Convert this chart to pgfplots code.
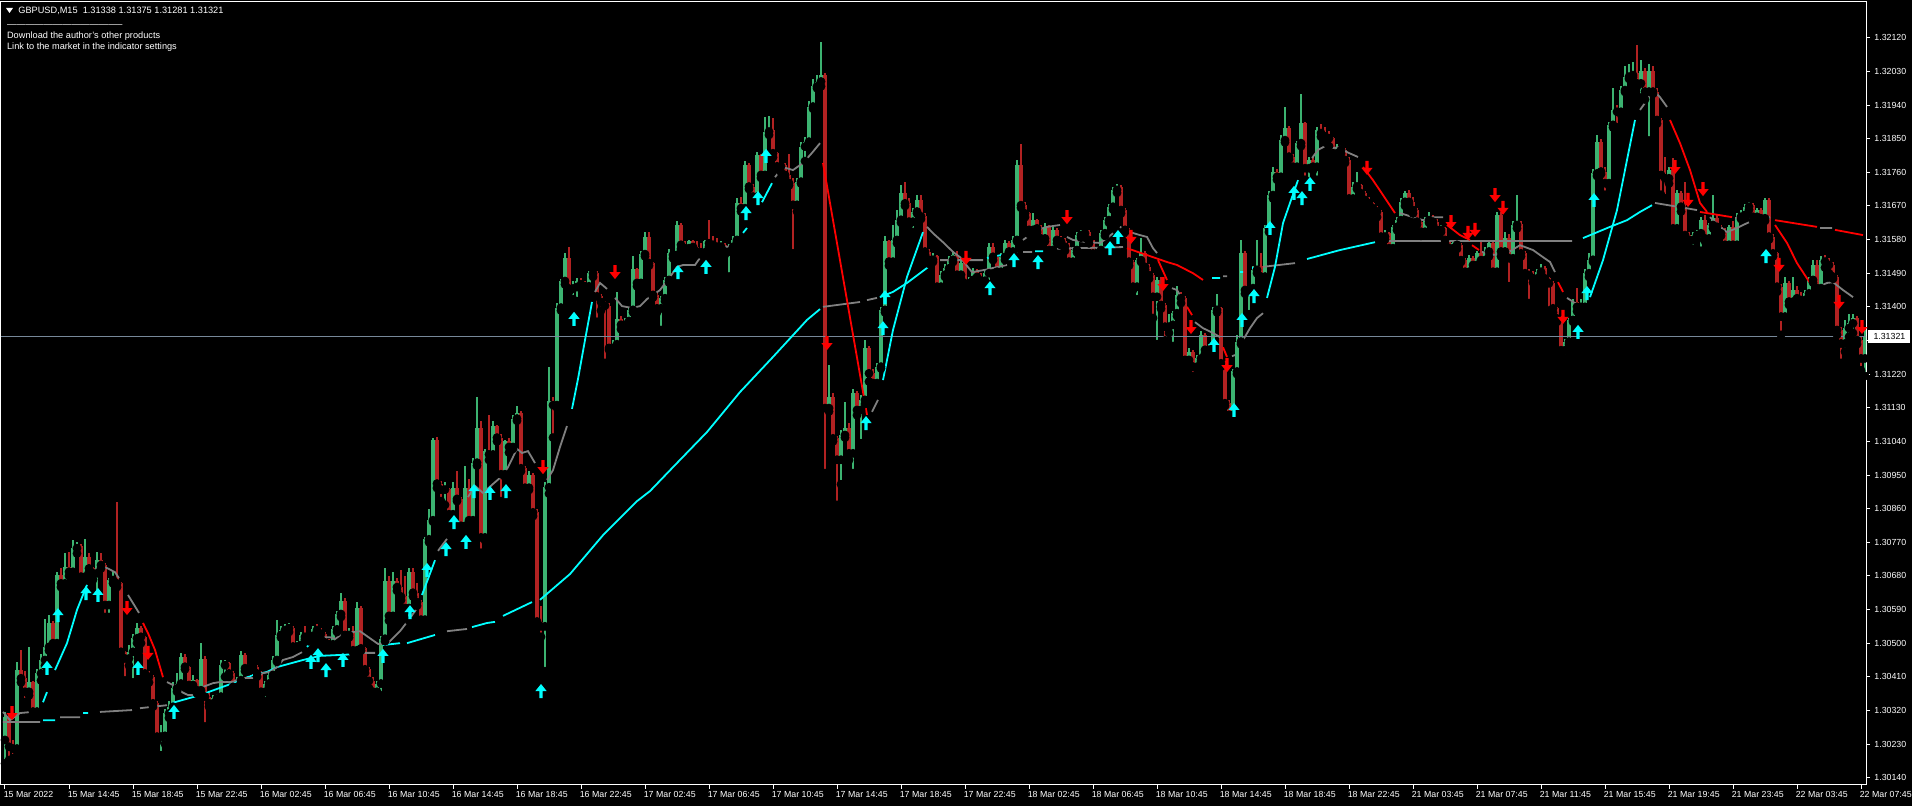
\documentclass[border=0pt]{standalone}
\usepackage{pgfplots}
\pgfplotsset{compat=1.18}
\usepackage{pgfplotstable}
\usepackage{fontspec}
\setmainfont{Liberation Sans}
\definecolor{cgreen}{RGB}{60,179,113}
\definecolor{cred}{RGB}{178,34,34}
\definecolor{aqua}{RGB}{0,255,255}
\definecolor{mred}{RGB}{255,0,0}
\definecolor{mgray}{RGB}{128,128,128}
\definecolor{pline}{RGB}{119,136,153}
\pgfdeclareplotmark{uarr}{%
  \pgfpathmoveto{\pgfpoint{-0.8pt}{-3.5pt}}\pgfpathlineto{\pgfpoint{0.8pt}{-3.5pt}}
  \pgfpathlineto{\pgfpoint{0.8pt}{0pt}}\pgfpathlineto{\pgfpoint{2.8pt}{0pt}}
  \pgfpathlineto{\pgfpoint{0pt}{3.5pt}}\pgfpathlineto{\pgfpoint{-2.8pt}{0pt}}
  \pgfpathlineto{\pgfpoint{-0.8pt}{0pt}}\pgfpathclose\pgfusepathqfill}
\pgfdeclareplotmark{darr}{%
  \pgfpathmoveto{\pgfpoint{-0.8pt}{3.5pt}}\pgfpathlineto{\pgfpoint{0.8pt}{3.5pt}}
  \pgfpathlineto{\pgfpoint{0.8pt}{0pt}}\pgfpathlineto{\pgfpoint{2.8pt}{0pt}}
  \pgfpathlineto{\pgfpoint{0pt}{-3.5pt}}\pgfpathlineto{\pgfpoint{-2.8pt}{0pt}}
  \pgfpathlineto{\pgfpoint{-0.8pt}{0pt}}\pgfpathclose\pgfusepathqfill}
% candles: bar index, open, close, high, low in points above 1.30000
\pgfplotstableread{
i o c h l
0 241 303 315 178
1 303 223 312 187
2 223 218 240 192
3 218 428 450 210
4 428 406 481 395
5 406 370 425 342
6 370 395 489 360
7 395 317 400 305
8 317 419 430 310
9 419 455 470 400
10 455 490 566 440
11 490 553 575 480
12 553 500 560 490
13 500 682 690 495
14 682 660 700 650
15 660 705 740 650
16 705 691 745 680
17 691 754 775 680
18 754 760 770 740
19 760 678 765 660
20 678 731 778 670
21 731 700 740 690
22 700 687 705 670
23 687 723 745 620
24 723 709 740 700
25 709 602 715 570
26 602 669 675 570
27 669 678 690 660
28 678 660 878 650
29 660 477 665 465
30 477 459 480 400
31 459 477 495 440
32 477 513 525 395
33 513 540 555 500
34 540 517 545 500
35 517 419 520 405
36 419 410 425 395
37 410 339 415 330
38 339 250 345 236
39 250 252 280 200
40 252 312 325 230
41 312 330 345 300
42 330 379 395 320
43 379 392 420 370
44 392 464 475 385
45 464 437 470 430
46 437 388 440 380
47 388 401 415 380
48 401 374 405 365
49 374 459 500 365
50 459 357 465 277
51 357 339 370 330
52 339 352 360 335
53 352 357 365 340
54 357 441 455 350
55 441 446 455 410
56 446 419 450 410
57 419 383 425 375
58 383 401 410 375
59 401 468 480 395
60 468 433 475 425
61 433 437 445 425
62 437 437 445 430
63 437 419 442 410
64 419 370 425 360
65 370 392 400 345
66 392 415 420 385
67 415 455 465 410
68 455 522 562 450
69 522 535 545 515
70 535 540 550 525
71 540 540 555 530
72 540 491 545 485
73 491 495 505 485
74 495 522 530 490
75 522 517 545 510
76 517 520 525 505
77 520 537 545 512
78 537 535 550 510
79 535 525 540 510
80 525 502 530 495
81 502 497 510 485
82 497 537 545 490
83 537 578 585 530
84 578 614 634 570
85 614 522 620 515
86 522 532 540 515
87 532 481 545 475
88 481 594 610 475
89 594 486 600 480
90 486 430 490 420
91 430 399 435 380
92 399 370 410 355
93 370 392 400 350
94 392 512 520 360
95 512 666 700 505
96 666 573 680 560
97 573 666 690 565
98 666 650 675 640
99 650 625 695 615
100 625 594 680 585
101 594 691 700 560
102 691 635 700 625
103 635 610 660 600
104 610 563 615 555
105 563 778 785 545
106 778 829 860 770
107 829 1044 1050 825
108 1044 927 1052 915
109 927 911 935 880
110 911 913 930 870
111 913 845 915 840
112 845 916 930 840
113 916 886 960 880
114 886 814 890 805
115 814 916 975 800
116 916 829 940 810
117 829 983 995 815
118 983 1075 1160 975
119 1075 783 1095 742
120 783 1014 1020 775
121 1014 1005 1110 990
122 1005 1080 1095 995
123 1080 1050 1085 1040
124 1050 952 1060 880
125 952 1040 1045 945
126 1040 1025 1050 1010
127 1025 1101 1110 1020
128 1101 1116 1135 1095
129 1116 968 1120 960
130 968 916 975 905
131 916 950 960 910
132 950 850 955 840
133 850 558 860 545
134 558 545 600 517
135 545 917 930 425
136 917 1147 1240 900
137 1147 1137 1160 1050
138 1137 1398 1410 1130
139 1398 1469 1475 1390
140 1469 1531 1545 1460
141 1531 1449 1560 1440
142 1449 1453 1470 1420
143 1453 1470 1478 1415
144 1470 1460 1478 1450
145 1460 1455 1470 1440
146 1455 1490 1495 1450
147 1490 1490 1492 1480
148 1490 1428 1495 1360
149 1428 1413 1435 1390
150 1413 1403 1415 1250
151 1403 1290 1410 1285
152 1290 1300 1310 1280
153 1300 1367 1440 1295
154 1367 1352 1375 1340
155 1352 1362 1370 1345
156 1362 1392 1400 1355
157 1392 1500 1535 1385
158 1500 1464 1505 1455
159 1464 1541 1550 1455
160 1541 1587 1600 1535
161 1587 1517 1600 1510
162 1517 1432 1520 1425
163 1432 1396 1440 1385
164 1396 1423 1430 1338
165 1423 1472 1480 1415
166 1472 1544 1555 1465
167 1544 1539 1550 1530
168 1539 1619 1630 1535
169 1619 1566 1625 1555
170 1566 1557 1575 1545
171 1557 1575 1580 1550
172 1575 1560 1580 1535
173 1560 1548 1575 1540
174 1550 1546 1570 1540
175 1546 1575 1580 1540
176 1575 1570 1633 1560
177 1570 1566 1590 1560
178 1566 1561 1585 1550
179 1561 1566 1575 1555
180 1566 1548 1570 1540
181 1548 1561 1568 1481
182 1561 1579 1590 1545
183 1579 1677 1690 1575
184 1677 1664 1695 1655
185 1664 1780 1790 1660
186 1780 1722 1785 1715
187 1722 1695 1730 1685
188 1695 1807 1815 1690
189 1807 1753 1810 1745
190 1753 1869 1908 1745
191 1869 1874 1910 1860
192 1874 1811 1905 1800
193 1811 1776 1815 1770
194 1776 1780 1785 1760
195 1780 1753 1785 1745
196 1753 1731 1810 1725
197 1731 1673 1745 1543
198 1673 1735 1745 1655
199 1735 1829 1840 1730
200 1829 1842 1855 1790
201 1842 1936 1950 1835
202 1936 1990 2010 1930
203 1990 2003 2020 1985
204 2003 2021 2110 1990
205 2021 1129 2025 955
206 1129 1160 1245 1120
207 1160 1048 1170 1040
208 1048 991 1055 870
209 991 1057 1070 925
210 1057 1075 1145 1050
211 1075 1008 1090 990
212 1008 1169 1180 955
213 1169 1124 1175 1110
214 1124 1151 1165 1035
215 1151 1289 1310 1140
216 1289 1222 1295 1200
217 1222 1196 1235 1180
218 1196 1240 1250 1185
219 1240 1392 1400 1235
220 1392 1575 1590 1385
221 1575 1521 1580 1510
222 1521 1579 1620 1515
223 1579 1633 1660 1570
224 1633 1704 1727 1625
225 1704 1677 1735 1670
226 1677 1628 1690 1620
227 1628 1655 1665 1600
228 1655 1686 1700 1650
229 1686 1642 1700 1635
230 1642 1548 1650 1540
231 1548 1526 1555 1515
232 1526 1535 1545 1520
233 1535 1454 1540 1445
234 1454 1486 1495 1445
235 1486 1503 1515 1480
236 1503 1526 1535 1495
237 1526 1539 1550 1520
238 1539 1486 1550 1480
239 1486 1517 1525 1475
240 1517 1463 1530 1455
241 1463 1472 1480 1455
242 1472 1494 1505 1465
243 1494 1480 1500 1470
244 1480 1470 1490 1460
245 1470 1490 1500 1450
246 1490 1561 1570 1460
247 1561 1534 1570 1525
248 1534 1494 1540 1485
249 1494 1534 1545 1485
250 1534 1570 1580 1525
251 1570 1548 1575 1540
252 1548 1579 1590 1540
253 1579 1780 1793 1575
254 1780 1672 1837 1665
255 1672 1650 1680 1640
256 1650 1606 1655 1595
257 1606 1632 1650 1600
258 1632 1610 1635 1600
259 1610 1583 1620 1575
260 1583 1615 1625 1575
261 1615 1552 1620 1540
262 1552 1606 1615 1545
263 1606 1579 1612 1570
264 1579 1575 1590 1565
265 1575 1561 1585 1550
266 1561 1521 1570 1505
267 1521 1552 1560 1515
268 1552 1592 1600 1545
269 1592 1597 1605 1585
270 1597 1600 1608 1585
271 1600 1579 1605 1570
272 1579 1543 1580 1535
273 1543 1552 1560 1535
274 1552 1597 1605 1545
275 1597 1632 1640 1590
276 1632 1668 1675 1625
277 1668 1713 1720 1660
278 1713 1722 1730 1705
279 1722 1659 1725 1650
280 1659 1606 1665 1600
281 1606 1521 1610 1510
282 1521 1454 1525 1445
283 1454 1525 1530 1420
284 1525 1543 1585 1520
285 1543 1507 1550 1500
286 1507 1485 1515 1475
287 1485 1427 1490 1370
288 1427 1472 1480 1300
289 1472 1405 1480 1395
290 1405 1347 1410 1310
291 1347 1352 1380 1330
292 1352 1383 1390 1295
293 1383 1432 1455 1375
294 1432 1423 1440 1410
295 1423 1258 1430 1250
296 1258 1280 1290 1250
297 1280 1240 1285 1215
298 1240 1262 1270 1235
299 1262 1325 1335 1255
300 1325 1285 1330 1275
301 1285 1289 1300 1270
302 1289 1392 1400 1280
303 1392 1396 1435 1385
304 1396 1249 1400 1240
305 1249 1142 1255 1135
306 1142 1111 1150 1098
307 1111 1227 1235 1105
308 1227 1307 1325 1220
309 1307 1543 1580 1300
310 1543 1445 1550 1435
311 1445 1450 1455 1380
312 1450 1499 1510 1440
313 1499 1508 1580 1490
314 1508 1481 1545 1470
315 1481 1610 1620 1475
316 1610 1699 1710 1600
317 1699 1762 1775 1690
318 1762 1748 1770 1740
319 1748 1846 1860 1740
320 1846 1878 1935 1840
321 1878 1802 1885 1795
322 1802 1775 1810 1770
323 1775 1838 1845 1760
324 1838 1891 1970 1830
325 1891 1771 1895 1740
326 1771 1793 1800 1735
327 1793 1775 1800 1765
328 1775 1873 1880 1740
329 1873 1865 1890 1855
330 1865 1856 1880 1840
331 1856 1851 1870 1830
332 1851 1811 1855 1800
333 1811 1829 1835 1805
334 1829 1820 1830 1810
335 1820 1793 1825 1785
336 1793 1690 1800 1680
337 1690 1722 1735 1675
338 1722 1726 1760 1715
339 1726 1704 1730 1695
340 1704 1686 1710 1680
341 1686 1677 1695 1660
342 1677 1664 1680 1655
343 1664 1655 1670 1640
344 1655 1588 1660 1580
345 1588 1597 1605 1580
346 1597 1557 1600 1545
347 1557 1614 1620 1550
348 1614 1632 1640 1605
349 1632 1681 1690 1625
350 1681 1704 1710 1670
351 1704 1681 1712 1675
352 1681 1659 1695 1650
353 1659 1628 1665 1620
354 1628 1601 1635 1590
355 1601 1632 1640 1595
356 1632 1641 1655 1625
357 1641 1628 1645 1620
358 1628 1606 1635 1595
359 1606 1610 1620 1600
360 1610 1579 1615 1570
361 1579 1557 1580 1548
362 1557 1570 1580 1540
363 1570 1566 1580 1555
364 1566 1525 1570 1520
365 1525 1494 1530 1485
366 1494 1530 1540 1490
367 1530 1512 1535 1500
368 1512 1543 1550 1500
369 1543 1525 1575 1515
370 1525 1548 1560 1520
371 1548 1570 1580 1535
372 1570 1494 1575 1480
373 1494 1646 1655 1480
374 1646 1548 1655 1535
375 1548 1583 1600 1540
376 1583 1530 1595 1455
377 1530 1619 1630 1525
378 1619 1623 1698 1610
379 1623 1543 1630 1535
380 1543 1490 1550 1480
381 1490 1485 1500 1410
382 1485 1476 1495 1465
383 1476 1494 1500 1460
384 1494 1503 1515 1490
385 1503 1476 1510 1465
386 1476 1463 1480 1390
387 1463 1396 1470 1385
388 1396 1369 1400 1360
389 1369 1284 1375 1270
390 1284 1307 1315 1262
391 1307 1365 1370 1300
392 1365 1414 1420 1360
393 1414 1400 1450 1388
394 1400 1400 1420 1390
395 1400 1490 1500 1395
396 1490 1526 1545 1480
397 1526 1757 1770 1520
398 1757 1842 1860 1750
399 1842 1762 1850 1755
400 1762 1731 1775 1700
401 1731 1887 1895 1725
402 1887 1927 1985 1880
403 1927 1922 1940 1880
404 1922 1980 1990 1915
405 1980 2016 2045 1975
406 2016 2020 2050 2010
407 2020 2025 2055 2015
408 2025 1998 2101 1990
409 1998 2030 2060 1960
410 2030 1976 2040 1955
411 1976 2030 2050 1845
412 2030 1976 2045 1970
413 1976 1900 1985 1890
414 1900 1753 1905 1700
415 1753 1744 1800 1690
416 1744 1766 1775 1730
417 1766 1610 1798 1600
418 1610 1704 1712 1605
419 1704 1668 1710 1655
420 1668 1592 1735 1580
421 1592 1579 1600 1560
422 1579 1592 1600 1555
423 1592 1597 1605 1580
424 1597 1632 1640 1550
425 1632 1583 1645 1575
426 1583 1619 1625 1575
427 1619 1637 1700 1610
428 1637 1614 1645 1605
429 1614 1597 1620 1590
430 1597 1566 1610 1560
431 1566 1615 1620 1560
432 1615 1566 1630 1560
433 1566 1641 1650 1560
434 1641 1646 1660 1635
435 1646 1668 1675 1640
436 1668 1673 1680 1660
437 1673 1641 1678 1630
438 1641 1659 1665 1635
439 1659 1637 1665 1630
440 1637 1686 1690 1630
441 1686 1588 1690 1580
442 1588 1543 1595 1535
443 1543 1454 1548 1440
444 1454 1374 1460 1325
445 1374 1463 1480 1370
446 1463 1414 1470 1405
447 1414 1445 1480 1410
448 1445 1423 1455 1395
449 1423 1418 1440 1410
450 1418 1436 1445 1410
451 1436 1472 1480 1430
452 1472 1512 1525 1465
453 1512 1450 1525 1440
454 1450 1526 1535 1445
455 1526 1521 1540 1505
456 1521 1512 1530 1490
457 1512 1481 1520 1475
458 1481 1338 1485 1325
459 1338 1302 1345 1250
460 1302 1343 1365 1280
461 1343 1356 1380 1320
462 1356 1369 1380 1330
463 1369 1311 1375 1300
464 1311 1262 1318 1230
465 1262 1321 1338 1215
}\candles
% medium moving average, in points above 1.30000, split by colour
\pgfplotstableread{
i p
-0.5 316
1.25 294
3.75 313
6.75 316
8.75 321
0 nan
21.75 677
23.25 704
25.5 701
27.5 690
28.5 674
0 nan
30.75 629
33.5 581
0 nan
40.5 396
42 388
44.25 369
45.75 361
48 361
49.5 383
52 393
53.75 396
57 396
58.75 407
62 407
64.5 420
66.25 423
68 436
69.5 455
72 463
74.25 476
0 nan
78.5 516
81.25 516
82.5 511
84.5 527
88.75 532
93.25 498
95.75 500
98.75 532
101.25 567
103.75 605
0 nan
108.25 747
110.5 779
0 nan
115.75 891
117.5 921
119.5 902
122 926
124.25 947
125.75 971
128 1020
129.25 1009
130.75 1014
132.5 982
0 nan
135.5 937
137 963
138.75 1025
140.5 1081
0 nan
147.5 1440
148.75 1464
150.5 1448
0 nan
152.5 1424
154.25 1402
156.75 1397
158.75 1402
160.5 1421
161.25 1426
163.75 1445
166.25 1480
168 1507
169.5 1512
172.5 1512
173.75 1531
0 nan
175.75 1560
178 1568
180.5 1560
182 1568
183.25 1579
0 nan
192.5 1747
194.5 1774
197 1766
199.5 1785
201.75 1812
203.75 1838
0 nan
216.75 1119
218.25 1151
0 nan
230.5 1614
232 1597
234.5 1573
237 1547
238.75 1533
241.75 1493
245 1499
247 1504
250.5 1512
0 nan
254.5 1579
258 1606
260.5 1614
263.75 1619
0 nan
265.5 1587
267 1579
270.5 1573
273.75 1571
275.5 1584
277 1597
0 nan
278.75 1614
281.25 1600
283.75 1592
285.5 1587
287 1557
288 1544
0 nan
291.75 1450
293 1445
294.5 1418
0 nan
297.5 1359
299.5 1343
302 1330
303.75 1319
0 nan
306.75 1268
307.5 1271
0 nan
309.5 1311
311.25 1343
313 1370
314.5 1383
0 nan
326.75 1798
328.25 1820
330 1830
332 1825
333.75 1828
335.5 1814
338.25 1801
0 nan
348.75 1651
352 1640
354.5 1632
357 1640
359.5 1640
0 nan
369.25 1547
372 1539
375.5 1544
378.75 1565
382 1552
384.5 1533
386.25 1520
387.5 1493
0 nan
390.5 1424
392.5 1410
393.75 1405
395.5 1405
0 nan
408.75 1927
410.5 1953
412 1980
413.75 1961
415.5 1935
0 nan
426.25 1640
428.75 1614
430.5 1600
433 1611
435.5 1624
438.75 1638
441.25 1640
0 nan
452.5 1450
455.5 1464
457 1466
459.5 1445
462 1426
}\medgray
\pgfplotstableread{
i p
9.5 342
10.5 369
0 nan
12.5 428
15.5 500
18 589
20.5 656
0 nan
75.5 490
77.5 514
0 nan
104.25 629
107.5 722
0 nan
141.75 1127
143.25 1207
145 1311
146.75 1413
0 nan
184.5 1598
185.5 1611
0 nan
189.25 1680
191.75 1731
0 nan
219.5 1204
222 1338
225.5 1480
229.5 1600
0 nan
315.5 1424
317.5 1507
319.5 1624
321.25 1678
323.25 1739
0 nan
396.25 1426
399.5 1525
403 1659
405.5 1793
407.5 1900
}\medcyan
\pgfplotstableread{
i p
34.5 554
35.75 527
37.5 482
39.5 409
0 nan
204.5 1785
215.5 1111
0 nan
288.25 1525
290.5 1472
0 nan
295.5 1400
296.75 1378
0 nan
304.5 1292
305.5 1266
0 nan
339.5 1774
342 1739
344.5 1699
347.5 1651
0 nan
360.5 1619
363.75 1592
366.25 1579
0 nan
366.75 1565
368.5 1552
0 nan
388.25 1466
389.5 1440
0 nan
416.25 1900
418.75 1838
421.25 1766
423.75 1678
425.5 1654
0 nan
442.5 1619
445.5 1571
448 1517
451.25 1464
}\medred
% slow moving average
\pgfplotstableread{
i p
-0.5 289
8.75 289
0 nan
13.75 302
18.75 302
0 nan
23.75 316
31.75 321
0 nan
33.75 326
40.5 334
0 nan
89.5 474
92.5 474
0 nan
110.5 532
115.5 538
0 nan
204.5 1400
213.75 1413
0 nan
215.5 1418
218 1424
0 nan
233.75 1525
244.5 1525
0 nan
254.5 1547
256.75 1547
0 nan
260.75 1555
279.5 1560
0 nan
304.5 1482
305.5 1482
0 nan
314.5 1507
322.5 1517
0 nan
343.75 1576
391.75 1576
0 nan
412.5 1678
423 1659
0 nan
432.5 1638
441.25 1638
0 nan
453.75 1611
456.75 1611
}\slowgray
\pgfplotstableread{
i p
9.5 294
12.5 294
0 nan
19.5 313
20.75 313
0 nan
41.75 340
48.75 361
57 393
62 415
65.5 423
68 436
74.5 455
78.75 466
88.75 471
0 nan
94.5 495
98.75 500
0 nan
100.5 500
107.5 522
0 nan
116.75 543
120.5 554
122.5 557
0 nan
124.5 573
131.75 610
0 nan
133.75 616
141.25 685
149.5 789
158 880
161.25 907
167 971
175.5 1065
183.75 1172
192 1266
200.5 1365
203.75 1394
0 nan
218.75 1426
222 1440
225.5 1464
229.5 1496
232.5 1520
0 nan
245.5 1531
253 1547
0 nan
257.5 1549
259.5 1549
0 nan
301.75 1477
303.75 1477
0 nan
308.75 1493
309.5 1493
0 nan
311.75 1504
313.25 1504
0 nan
325.5 1528
333.75 1552
342.5 1573
0 nan
394.5 1584
401.25 1614
405.5 1632
408.75 1654
411.75 1672
}\slowcyan
\pgfplotstableread{
i p
280.5 1557
290.5 1520
293 1512
297 1490
299.5 1472
0 nan
423.75 1654
431.75 1640
0 nan
442.5 1632
453 1614
0 nan
457.5 1606
464.5 1592
}\slowred
% signal arrows
\pgfplotstableread{
i p
10.5 434
13.25 575
20.25 634
23.25 629
33.25 434
42.25 316
76.5 450
78.25 468
80.25 428
84.5 455
94.5 466
101.25 583
105.5 696
110.25 752
112.25 824
115.25 771
117.25 907
121.25 902
125.25 907
134 372
142.25 1368
168.25 1493
175.25 1507
185.25 1651
188.25 1691
190.25 1804
215.25 1089
219.5 1343
220 1426
246.25 1450
252.25 1525
258.25 1520
276.25 1557
278.25 1587
302.25 1298
307.25 1124
309.25 1365
312.25 1429
316.25 1611
322.25 1705
324.25 1691
326.25 1729
393.25 1333
395.5 1437
397.25 1686
440.25 1536
}\uparrows
\pgfplotstableread{
i p
1.75 313
30.5 594
35.75 474
134.5 971
152.5 1493
205.5 1303
240.25 1531
265.5 1640
281.5 1587
289.5 1461
296.5 1346
305.5 1244
340.5 1772
361.5 1627
365.75 1598
367.5 1606
372.5 1699
374.5 1665
389.5 1373
417.5 1774
420.75 1686
424.5 1715
443.5 1512
458.5 1413
464.25 1346
}\downarrows
\begin{document}
\begin{tikzpicture}
\fill[black] (-0.5pt,-10.5pt) rectangle (955.5pt,392.5pt);
\begin{axis}[
  at={(0,0)}, anchor=south west,
  scale only axis, width=932.5pt, height=391.5pt,
  xmin=-1, xmax=465.25, ymin=1.301205, ymax=1.322158,
  axis line style={draw=white, line width=0.5pt},
  tick style={draw=white, line width=0.5pt},
  major tick length=2pt, tick align=outside,
  xtick pos=left, xticklabel pos=left,
  ytick pos=right, yticklabel pos=right,
  xtick={0,16,...,464},
  xticklabels={15 Mar 2022,15 Mar 14:45,15 Mar 18:45,15 Mar 22:45,16 Mar 02:45,16 Mar 06:45,16 Mar 10:45,16 Mar 14:45,16 Mar 18:45,16 Mar 22:45,17 Mar 02:45,17 Mar 06:45,17 Mar 10:45,17 Mar 14:45,17 Mar 18:45,17 Mar 22:45,18 Mar 02:45,18 Mar 06:45,18 Mar 10:45,18 Mar 14:45,18 Mar 18:45,18 Mar 22:45,21 Mar 03:45,21 Mar 07:45,21 Mar 11:45,21 Mar 15:45,21 Mar 19:45,21 Mar 23:45,22 Mar 03:45,22 Mar 07:45},
  ytick={1.3014,1.3023,1.3032,1.3041,1.305,1.3059,1.3068,1.3077,1.3086,1.3095,1.3104,1.3113,1.3122,1.3131,1.314,1.3149,1.3158,1.3167,1.3176,1.3185,1.3194,1.3203,1.3212},
  yticklabels={1.30140,1.30230,1.30320,1.30410,1.30500,1.30590,1.30680,1.30770,1.30860,1.30950,1.31040,1.31130,1.31220,{},1.31400,1.31490,1.31580,1.31670,1.31760,1.31850,1.31940,1.32030,1.32120},
  tick label style={font=\fontsize{4.4pt}{5pt}\selectfont, text=white, inner sep=0pt},
  xticklabel style={anchor=north west, xshift=-0.8pt, yshift=-1.2pt},
  yticklabel style={anchor=west, xshift=2pt},
  unbounded coords=discard,
]
% candle wicks (drawn upward from the low)
\addplot[only marks, mark=none, forget plot, error bars/y dir=plus, error bars/y explicit, error bars/error mark=none, error bars/error bar style={cgreen, line width=0.55pt}]
  table[x=i, y expr={\thisrow{c}>=\thisrow{o} ? 1.3+\thisrow{l}/100000 : nan}, y error plus expr={(\thisrow{h}-\thisrow{l})/100000}] {\candles};
\addplot[only marks, mark=none, forget plot, error bars/y dir=plus, error bars/y explicit, error bars/error mark=none, error bars/error bar style={cred, line width=0.55pt}]
  table[x=i, y expr={\thisrow{c}<\thisrow{o} ? 1.3+\thisrow{l}/100000 : nan}, y error plus expr={(\thisrow{h}-\thisrow{l})/100000}] {\candles};
% candle bodies (drawn upward from the lower of open and close)
\addplot[only marks, mark=none, forget plot, error bars/y dir=plus, error bars/y explicit, error bars/error mark=none, error bars/error bar style={cgreen, line width=1.6pt}]
  table[x=i, y expr={\thisrow{c}>=\thisrow{o} ? 1.3+\thisrow{o}/100000 : nan}, y error plus expr={max(\thisrow{c}-\thisrow{o},2)/100000}] {\candles};
\addplot[only marks, mark=none, forget plot, error bars/y dir=plus, error bars/y explicit, error bars/error mark=none, error bars/error bar style={cred, line width=1.6pt}]
  table[x=i, y expr={\thisrow{c}<\thisrow{o} ? 1.3+\thisrow{c}/100000 : nan}, y error plus expr={max(\thisrow{o}-\thisrow{c},2)/100000}] {\candles};
% bid line
\addplot[pline, line width=0.5pt, forget plot] coordinates {(-1,1.31321) (465.25,1.31321)};
% moving averages
\addplot[mgray, line width=0.9pt, unbounded coords=jump, forget plot] table[x=i, y expr=1.3+\thisrow{p}/100000] {\slowgray};
\addplot[aqua, line width=0.9pt, unbounded coords=jump, forget plot] table[x=i, y expr=1.3+\thisrow{p}/100000] {\slowcyan};
\addplot[mred, line width=0.9pt, unbounded coords=jump, forget plot] table[x=i, y expr=1.3+\thisrow{p}/100000] {\slowred};
\addplot[mgray, line width=0.9pt, unbounded coords=jump, forget plot] table[x=i, y expr=1.3+\thisrow{p}/100000] {\medgray};
\addplot[aqua, line width=0.9pt, unbounded coords=jump, forget plot] table[x=i, y expr=1.3+\thisrow{p}/100000] {\medcyan};
\addplot[mred, line width=0.9pt, unbounded coords=jump, forget plot] table[x=i, y expr=1.3+\thisrow{p}/100000] {\medred};
% arrows
\addplot[aqua, only marks, mark=uarr, forget plot] table[x=i, y expr=1.3+\thisrow{p}/100000] {\uparrows};
\addplot[mred, only marks, mark=darr, forget plot] table[x=i, y expr=1.3+\thisrow{p}/100000] {\downarrows};
\coordinate (pl) at (axis cs:465.25,1.31321);
\end{axis}
\node[fill=white, text=black, anchor=west, inner sep=0pt, minimum height=6.5pt, minimum width=21pt, font=\fontsize{4.4pt}{5pt}\selectfont] at ([xshift=1pt]pl) {1.31321};
\fill[white] (2.5pt,388.5pt) -- (6pt,388.5pt) -- (4.25pt,386pt) -- cycle;
\begin{scope}[every node/.style={text=white, inner sep=0pt, anchor=base west, font=\fontsize{4.6pt}{5.5pt}\selectfont}]
\node at (8.5pt,385.5pt) {GBPUSD,M15\ \ 1.31338 1.31375 1.31281 1.31321};
\node at (2.85pt,378.85pt) {--------------------------------------};
\node at (2.85pt,373.35pt) {Download the author's other products};
\node at (2.85pt,367.5pt) {Link to the market in the indicator settings};
\end{scope}
\pgfresetboundingbox
\useasboundingbox (-0.5pt,-10.5pt) rectangle (955.5pt,392.5pt);
\end{tikzpicture}
\end{document}
